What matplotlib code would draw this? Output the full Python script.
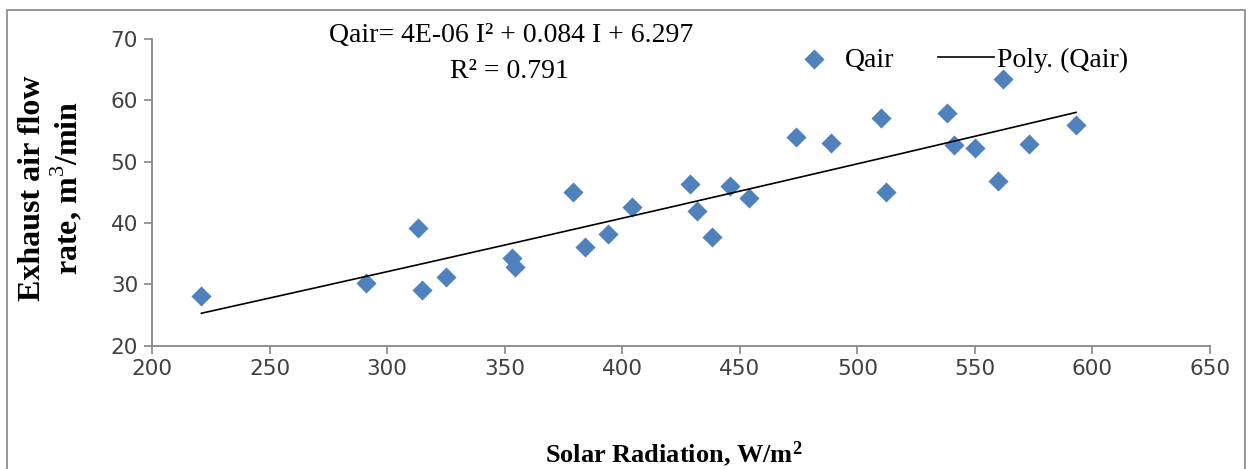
import matplotlib
matplotlib.use("Agg")
import matplotlib.pyplot as plt
from matplotlib.patches import Rectangle
import numpy as np

# solar radiation (W/m2) and exhaust air flow (m3/min)
radiation = [221, 291, 313, 315, 325, 353, 354.5, 379, 384, 394, 404, 429, 432, 438,
             446, 454, 474, 489, 510, 512, 538, 541, 550, 560, 562, 573, 593]
qair = [28.1, 30.2, 39.2, 29.0, 31.2, 34.2, 32.8, 45.0, 36.1, 38.2, 42.6, 46.3, 41.9, 37.7,
        46.1, 44.1, 54.0, 53.0, 57.1, 45.0, 58.0, 52.7, 52.2, 46.9, 63.5, 52.8, 55.9]
x_ticks = [200, 250, 300, 350, 400, 450, 500, 550, 600, 650]
y_ticks = [20, 30, 40, 50, 60, 70]

serif = "Liberation Serif"
grey = "#868686"
plt.rcParams["mathtext.fontset"] = "custom"
plt.rcParams["mathtext.rm"] = serif
plt.rcParams["mathtext.bf"] = serif + ":bold"

fig = plt.figure(figsize=(12.49, 4.69), dpi=100)
W, H = 1249, 469
ax = fig.add_axes([152 / W, 1 - 345.5 / H, (1210 - 152) / W, (345.5 - 39) / H])

# frame round the chart
fig.patches.append(Rectangle((7 / W, -0.05), (1245 - 7) / W, 1 - 10 / H + 0.05,
                             transform=fig.transFigure, fill=False,
                             edgecolor=grey, linewidth=1.2))

x = np.array(radiation)
y = np.array(qair)
coef = np.polyfit(x, y, 2)
xs = np.linspace(x.min(), x.max(), 200)

ax.scatter(x, y, marker="D", s=105, color="#4F81BD", linewidths=0, label="Qair", zorder=3)
ax.plot(xs, np.polyval(coef, xs), color="black", lw=1.2, label="Poly. (Qair)", zorder=4)

ax.set_xlim(200, 650)
ax.set_ylim(20, 70)
ax.set_xticks(x_ticks)
ax.set_yticks(y_ticks)
for s in ["top", "right"]:
    ax.spines[s].set_visible(False)
for s in ["left", "bottom"]:
    ax.spines[s].set_color(grey)
    ax.spines[s].set_linewidth(1.3)
ax.tick_params(direction="out", length=6, width=1.2, color=grey,
               labelsize=15.5, labelcolor="#404040", pad=4)

fig.text(674 / W, 1 - 454 / H, "Solar Radiation, W/m$\\mathbf{^2}$", ha="center", va="center",
         family=serif, fontweight="bold", fontsize=19)
fig.text(51 / W, 1 - 188 / H, "Exhaust air flow\nrate, m$^3$/min", ha="center", va="center",
         rotation=90, family=serif, fontweight="bold", fontsize=23, linespacing=1.05)

fig.text(511 / W, 1 - 36 / H, "Qair= 4E-06 I² + 0.084 I + 6.297", ha="center", va="center",
         family=serif, fontsize=20)
fig.text(509 / W, 1 - 72 / H, "R² = 0.791", ha="center", va="center",
         family=serif, fontsize=20)

ax.legend(loc="upper left", bbox_to_anchor=(775 / W, 1 - 36 / H), bbox_transform=fig.transFigure,
          ncol=2, frameon=False, prop={"family": serif, "size": 20},
          handlelength=2.0, columnspacing=1.6, handletextpad=0.1, borderaxespad=0)

fig.savefig("out.png", dpi=100)
